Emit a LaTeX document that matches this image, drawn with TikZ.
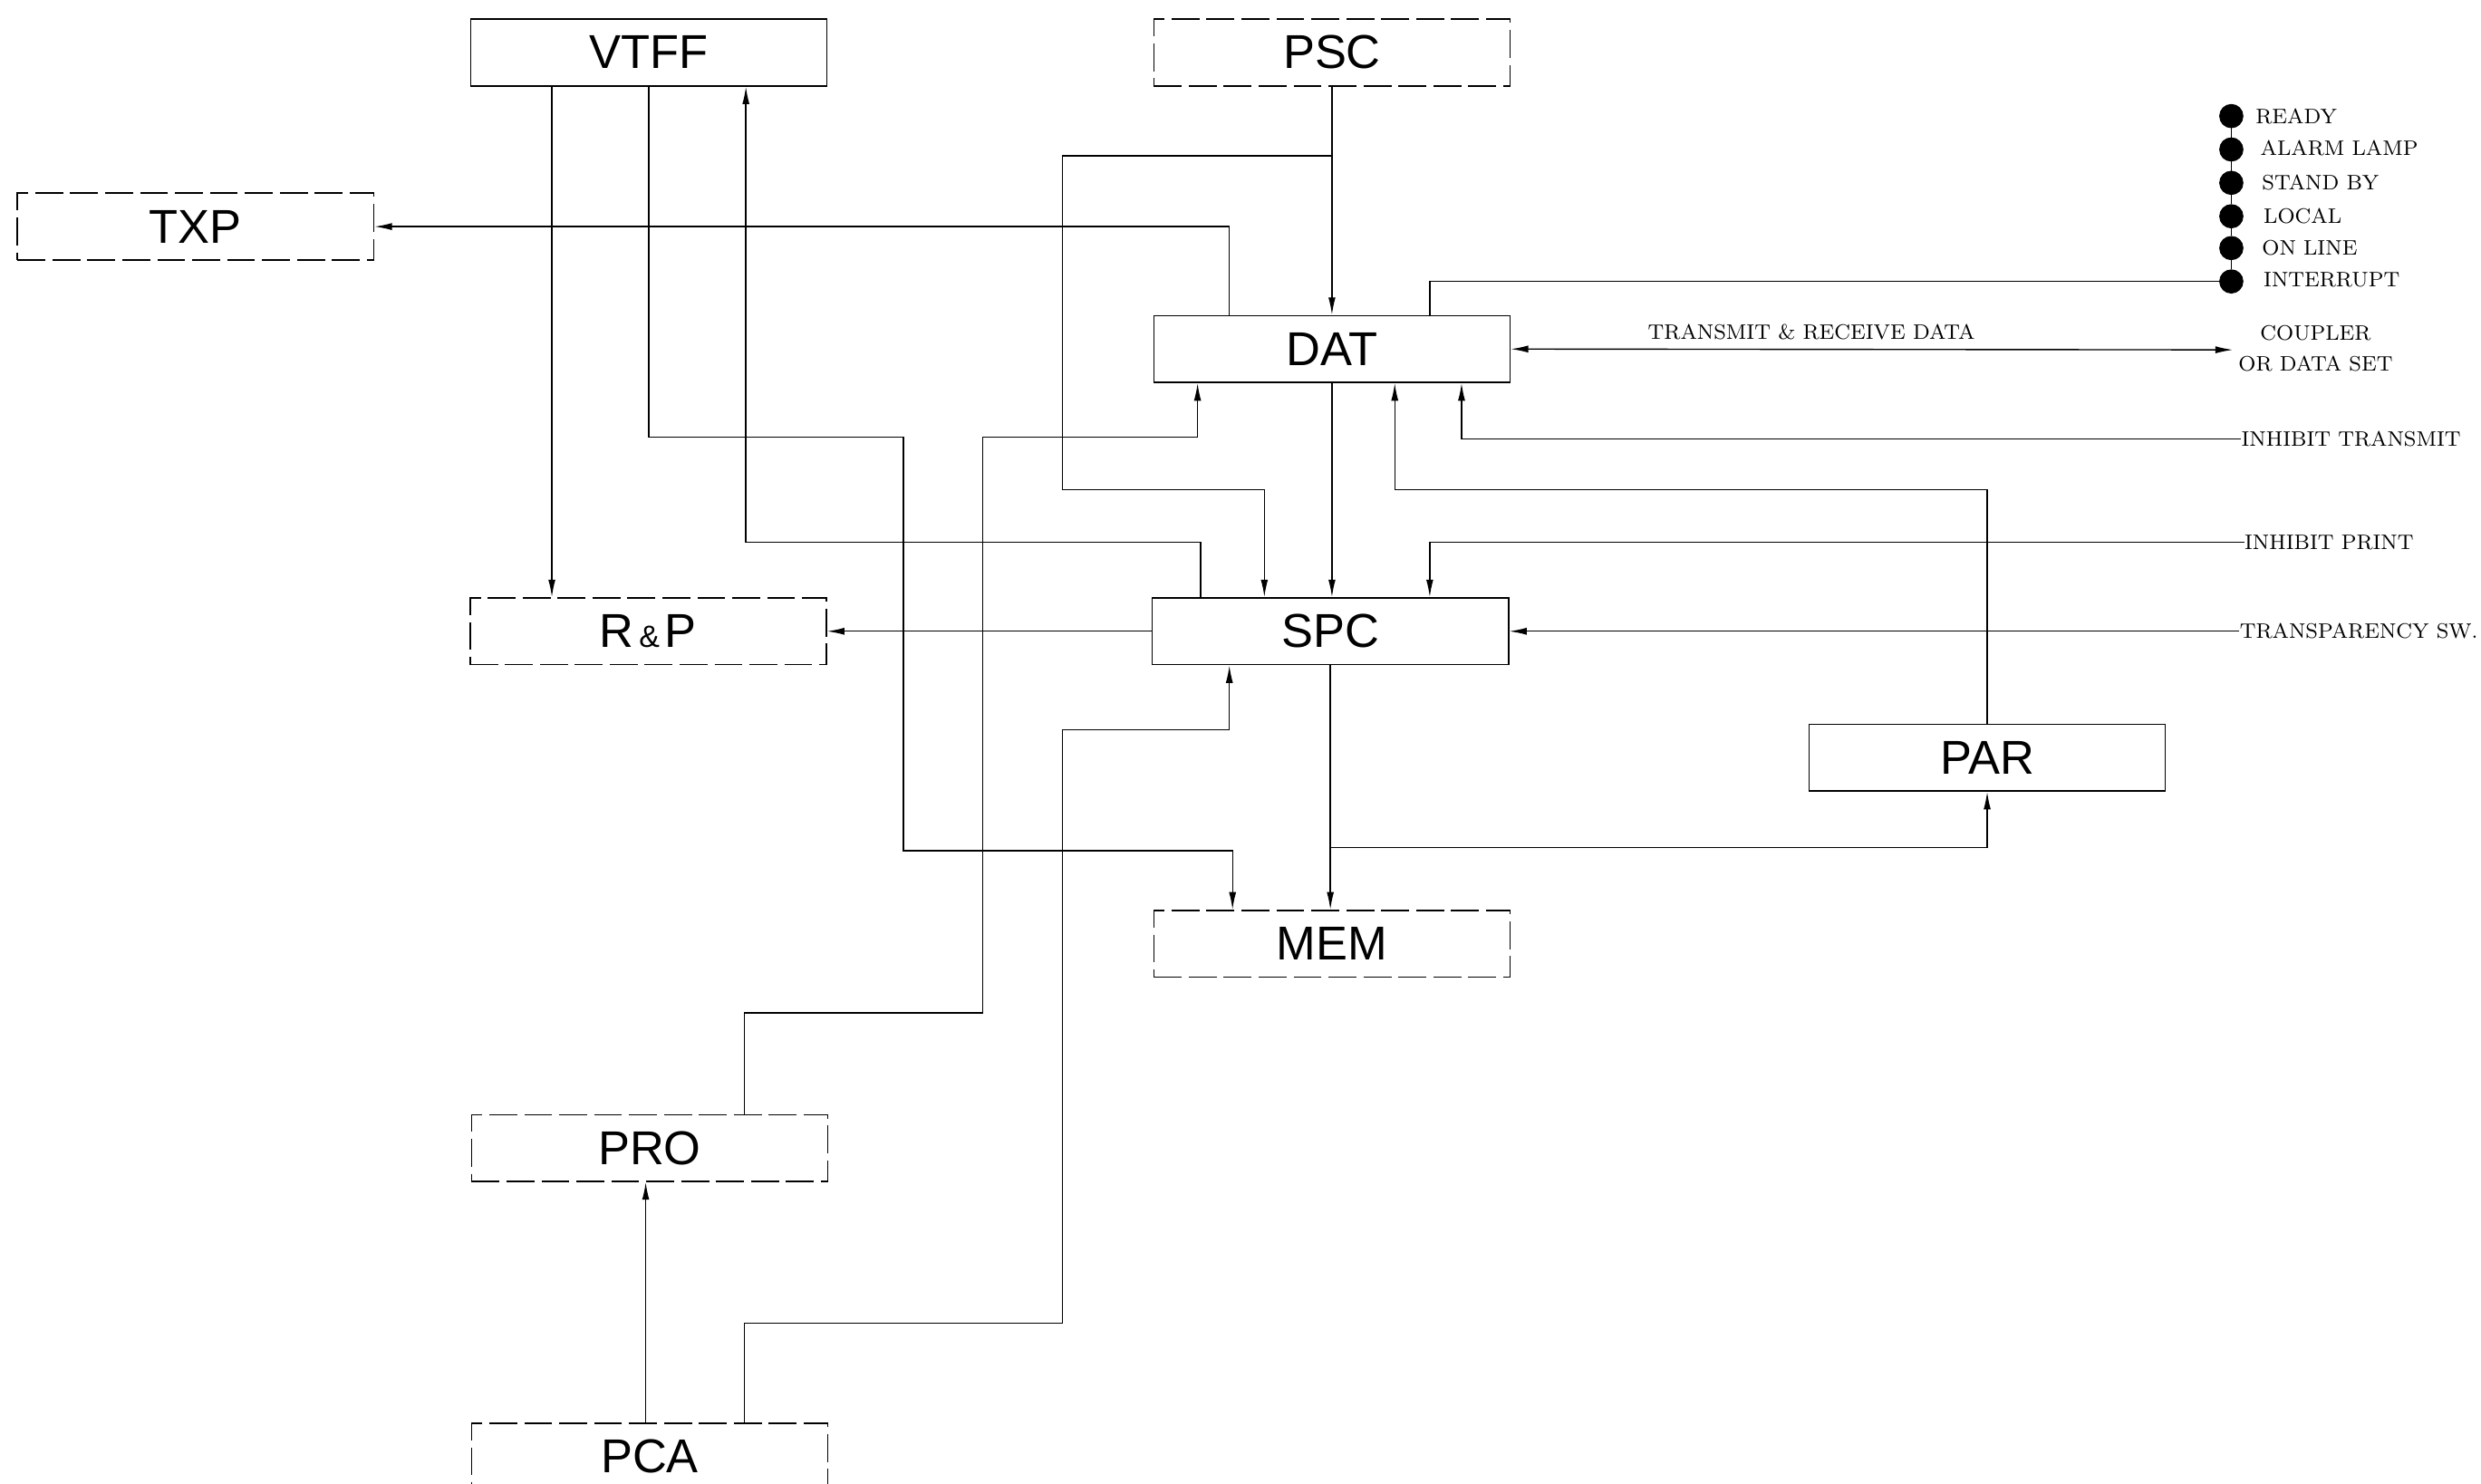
\documentclass[tikz,border=0pt]{standalone}
\usepackage{fontspec}
\newfontfamily\boxfont{Liberation Sans}
\usetikzlibrary{arrows.meta}
\begin{document}
\begin{tikzpicture}[x=0.02cm,y=-0.02cm,
  conn/.style={line width=0.45pt},
  arr/.style={conn,-{Latex[length=2.2mm,width=0.9mm]}},
  biarr/.style={conn,{Latex[length=2.2mm,width=0.9mm]}-{Latex[length=2.2mm,width=0.9mm]}},
  blk/.style={draw,line width=0.55pt,minimum width=4.48cm,minimum height=0.84cm,inner sep=0pt,
     font=\boxfont\fontsize{17}{20}\selectfont},
  blkdash/.style={blk,dash pattern=on 10pt off 2.5pt},
  lamp/.style={circle,fill=black,draw=black,minimum size=0.29cm,inner sep=0pt},
  lbl/.style={inner sep=0pt,font=\fontsize{7.5}{9}\selectfont},
]
\useasboundingbox (0,0) rectangle (1560,933);
\clip (0,0) rectangle (1560,933);

% helper coordinates
\foreach \v in {347,406,408,468,469,568,618,668,753,755,773,775,795,877,899,919,1249}{\coordinate (x\v) at (\v,0);}
\foreach \v in {98,275,308,341,459,535,533,637,832}{\coordinate (y\v) at (0,\v);}

% blocks
\node[blk]     (vtff) at (408,33)     {VTFF};
\node[blkdash] (psc)  at (837.5,33)   {PSC};
\node[blkdash] (txp)  at (123,142.5)  {TXP};
\node[blk]     (dat)  at (837.5,219.5){DAT};
\node[blkdash] (rp)   at (407.5,397)  {R{\fontsize{11}{12}\selectfont\,\&\,}P};
\node[blk]     (spc)  at (836.5,397)  {SPC};
\node[blk]     (par)  at (1249.5,476.5){PAR};
\node[blkdash] (mem)  at (837.5,593.5){MEM};
\node[blkdash] (pro)  at (408.5,722)  {PRO};
\node[blkdash] (pca)  at (408.5,916)  {PCA};

% lamps
\node[lamp] (l1) at (1403,73) {};
\node[lamp] (l2) at (1403,94) {};
\node[lamp] (l3) at (1403,115) {};
\node[lamp] (l4) at (1403,136) {};
\node[lamp] (l5) at (1403,156) {};
\node[lamp] (l6) at (1403,177) {};
\draw[conn] (l1) -- (l2) -- (l3) -- (l4) -- (l5) -- (l6);
\node[lbl,anchor=west] at (1418,73)  {READY};
\node[lbl,anchor=west] at (1421,93)  {ALARM LAMP};
\node[lbl,anchor=west] at (1422,115) {STAND BY};
\node[lbl,anchor=west] at (1423,136) {LOCAL};
\node[lbl,anchor=west] at (1422,156) {ON LINE};
\node[lbl,anchor=west] at (1423,176) {INTERRUPT};

% right-side labels
\node[lbl] (trd) at (1139,209) {TRANSMIT \& RECEIVE DATA};
\node[lbl,align=center,font=\fontsize{7.5}{11}\selectfont] (cpl) at (1456,219) {COUPLER\\OR DATA SET};
\coordinate (cplend) at (1404,220);
\node[lbl,anchor=west] (it) at (1409,276) {INHIBIT TRANSMIT};
\node[lbl,anchor=west] (ip) at (1411,341) {INHIBIT PRINT};
\node[lbl,anchor=west] (ts) at (1408,397) {TRANSPARENCY SW.};

% connectors
\draw[arr] (x347 |- vtff.south) -- (x347 |- rp.north);
\draw[arr] (x408 |- vtff.south) -- (x408 |- y275) -- (x568 |- y275) -- (x568 |- y535) -- (x775 |- y535) -- (x775 |- mem.north);
\draw[arr] (x755 |- spc.north) -- (x755 |- y341) -- (x469 |- y341) -- (x469 |- vtff.south);
\draw[arr] (x773 |- dat.north) -- (x773 |- txp.east) -- (txp.east);
\draw[arr] (psc.south) -- (dat.north);
\draw[arr] (psc.south |- y98) -- (x668 |- y98) -- (x668 |- y308) -- (x795 |- y308) -- (x795 |- spc.north);
\draw[arr] (dat.south) -- (dat.south |- spc.north);
\draw[arr] (spc.south) -- (spc.south |- mem.north);
\draw[arr] (spc.south |- y533) -- (par.south |- y533) -- (par.south);
\draw[arr] (par.north) -- (par.north |- y308) -- (x877 |- y308) -- (x877 |- dat.south);
\draw[arr] (it.west) -- (x919 |- it.west) -- (x919 |- dat.south);
\draw[arr] (ip.west) -- (x899 |- ip.west) -- (x899 |- spc.north);
\draw[arr] (ts.west) -- (spc.east |- ts.west);
\draw[biarr] (dat.east) -- (cplend);
\draw[conn] (l6) -- (x899 |- l6) -- (x899 |- dat.north);
\draw[arr] (spc.west) -- (rp.east);
\draw[arr] (x468 |- pro.north) -- (x468 |- y637) -- (x618 |- y637) -- (x618 |- y275) -- (x753 |- y275) -- (x753 |- dat.south);
\draw[arr] (x468 |- pca.north) -- (x468 |- y832) -- (x668 |- y832) -- (x668 |- y459) -- (x773 |- y459) -- (x773 |- spc.south);
\draw[arr] (x406 |- pca.north) -- (x406 |- pro.south);
\end{tikzpicture}
\end{document}
